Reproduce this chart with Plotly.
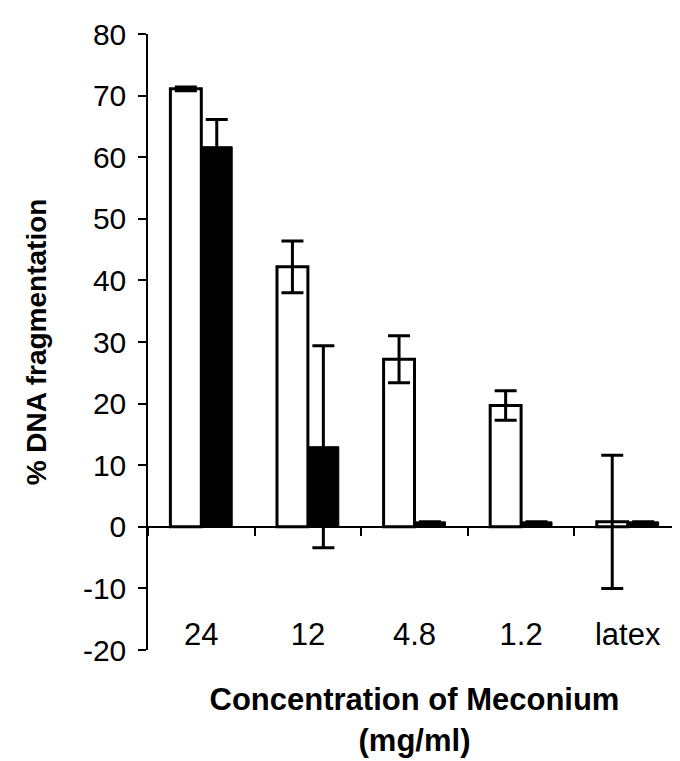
import plotly.graph_objects as go

categories = ["24", "12", "4.8", "1.2", "latex"]
white_values = [71.1, 42.2, 27.2, 19.7, 0.8]
white_errors = [0.3, 4.2, 3.8, 2.4, 10.8]
black_values = [61.7, 13.0, 0.8, 0.8, 0.8]
black_errors = [4.4, 16.4, 0.0, 0.0, 0.0]
y_tick_values = [-20, -10, 0, 10, 20, 30, 40, 50, 60, 70, 80]
y_tick_labels = ["-20", "-10", "0", "10", "20", "30", "40", "50", "60", "70", "80"]

FONT = "Liberation Sans, Arial, sans-serif"

fig = go.Figure()
fig.add_trace(go.Bar(
    x=categories, y=white_values, name="white",
    marker=dict(color="white", line=dict(color="black", width=3)),
    error_y=dict(type="data", array=white_errors, visible=True,
                 color="black", thickness=3, width=11),
    showlegend=False,
))
fig.add_trace(go.Bar(
    x=categories, y=black_values, name="black",
    marker=dict(color="black", line=dict(color="black", width=1)),
    error_y=dict(type="data", array=black_errors, visible=True,
                 color="black", thickness=3, width=11),
    showlegend=False,
))
# invisible trace carrying the zero-line axis with boundary ticks
fig.add_trace(go.Scatter(x=categories, y=[None] * len(categories), xaxis="x2",
                         mode="markers", showlegend=False, hoverinfo="skip"))

fig.update_layout(
    width=680, height=761,
    margin=dict(l=140, r=7, t=26, b=119),
    paper_bgcolor="white", plot_bgcolor="white",
    barmode="group", bargap=0.42, bargroupgap=0.0,
    font=dict(family=FONT, size=30, color="black"),
    xaxis=dict(
        type="category", categoryorder="array", categoryarray=categories,
        range=[-0.5, 4.5], anchor="free", position=0.06,
        showline=False, ticks="", showgrid=False, zeroline=False,
        tickfont=dict(size=31),
        title=dict(text="<b>Concentration of Meconium<br>(mg/ml)</b>",
                   font=dict(size=31), standoff=37),
    ),
    xaxis2=dict(
        type="category", categoryorder="array", categoryarray=categories,
        range=[-0.5, 4.5], overlaying="x", anchor="free", position=0.2,
        showline=True, linecolor="black", linewidth=1.5,
        ticks="outside", tickson="boundaries", ticklen=8, tickcolor="black",
        tickwidth=1.5, showticklabels=False, showgrid=False, zeroline=False,
    ),
    yaxis=dict(
        range=[-20, 80], tickvals=y_tick_values, ticktext=y_tick_labels,
        showline=True, linecolor="black", linewidth=1.5,
        ticks="outside", ticklen=8, tickcolor="black", tickwidth=1.5,
        showgrid=False, zeroline=False, tickfont=dict(size=30),
        ticklabelstandoff=6,
        title=dict(text="<b>% DNA fragmentation</b>", font=dict(size=28), standoff=28),
    ),
)

fig.write_html("out.html")
